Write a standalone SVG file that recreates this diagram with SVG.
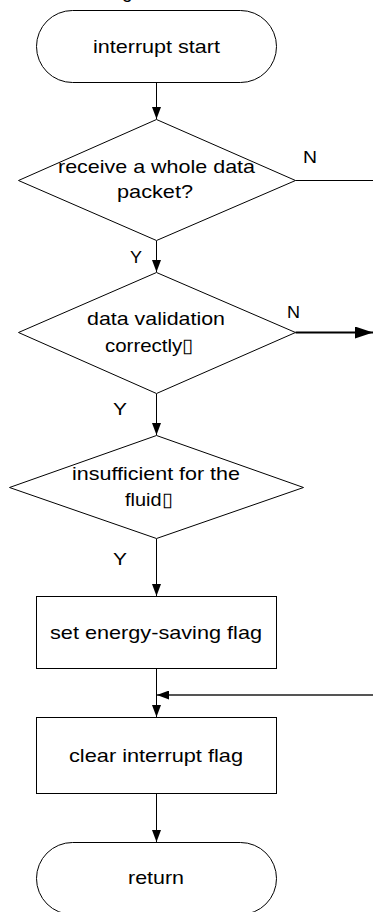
<svg xmlns="http://www.w3.org/2000/svg" width="373" height="912" viewBox="0 0 373 912">
<style>
.shape{fill:#fff;stroke:#000;stroke-width:1}
.t{font-family:"Liberation Sans",Arial,sans-serif;font-size:19px;fill:#000}
.l{font-family:"Liberation Sans",Arial,sans-serif;font-size:17px;fill:#000}
.c{fill:none;stroke:#000;stroke-width:1}
</style>
<defs>
<marker id="ah" markerUnits="userSpaceOnUse" markerWidth="12" markerHeight="9" refX="12" refY="4.5" orient="auto">
<path d="M0,0 L12,4.5 L0,9 z" fill="#000"/>
</marker>
<marker id="ahb" markerUnits="userSpaceOnUse" markerWidth="18" markerHeight="12" refX="18" refY="6" orient="auto">
<path d="M0,0 L18,6 L0,12 z" fill="#000"/>
</marker>
</defs>
<rect width="373" height="912" fill="#fff"/>
<text class="t" x="122" y="-2">g</text>
<g id="start">
<rect class="shape" x="36.5" y="10.5" width="240" height="72" rx="36" ry="36"/>
<text class="t" x="93" y="53" textLength="127" lengthAdjust="spacingAndGlyphs">interrupt start</text>
</g>
<g id="d1">
<polygon class="shape" points="156.5,119.5 295.5,180.5 156.5,240.5 18.5,180.5"/>
<text class="t" x="58" y="173" textLength="197" lengthAdjust="spacingAndGlyphs">receive a whole data</text>
<text class="t" x="117" y="198" textLength="76" lengthAdjust="spacingAndGlyphs">packet?</text>
</g>
<g id="d2">
<polygon class="shape" points="156.5,272.5 295.5,332.5 156.5,393.5 18.5,332.5"/>
<text class="t" x="87" y="325" textLength="138" lengthAdjust="spacingAndGlyphs">data validation</text>
<text class="t" x="105" y="352" textLength="88" lengthAdjust="spacingAndGlyphs">correctly▯</text>
</g>
<g id="d3">
<polygon class="shape" points="156.5,435.5 303.5,487.5 156.5,538.5 9.5,487.5"/>
<text class="t" x="72" y="480" textLength="168" lengthAdjust="spacingAndGlyphs">insufficient for the</text>
<text class="t" x="125" y="506" textLength="47" lengthAdjust="spacingAndGlyphs">fluid▯</text>
</g>
<g id="p1">
<rect class="shape" x="36.5" y="596.5" width="240" height="72"/>
<text class="t" x="50" y="639" textLength="212" lengthAdjust="spacingAndGlyphs">set energy-saving flag</text>
</g>
<g id="p2">
<rect class="shape" x="36.5" y="717.5" width="240" height="76"/>
<text class="t" x="69" y="762" textLength="174" lengthAdjust="spacingAndGlyphs">clear interrupt flag</text>
</g>
<g id="end">
<rect class="shape" x="36.5" y="842.5" width="240" height="72" rx="36" ry="36"/>
<text class="t" x="128" y="884" textLength="56" lengthAdjust="spacingAndGlyphs">return</text>
</g>
<g id="connectors">
<line class="c" x1="156.5" y1="83" x2="156.5" y2="119" marker-end="url(#ah)"/>
<line class="c" x1="156.5" y1="241" x2="156.5" y2="272" marker-end="url(#ah)"/>
<line class="c" x1="295.5" y1="180.5" x2="373" y2="180.5"/>
<line x1="295.5" y1="332.5" x2="373" y2="332.5" stroke="#000" stroke-width="2" marker-end="url(#ahb)"/>
<line class="c" x1="156.5" y1="394" x2="156.5" y2="435" marker-end="url(#ah)"/>
<line class="c" x1="156.5" y1="539" x2="156.5" y2="596" marker-end="url(#ah)"/>
<line class="c" x1="156.5" y1="669" x2="156.5" y2="717" marker-end="url(#ah)"/>
<line x1="373" y1="695" x2="157" y2="695" stroke="#555" stroke-width="2" marker-end="url(#ah)"/>
<line class="c" x1="156.5" y1="794" x2="156.5" y2="842" marker-end="url(#ah)"/>
<text class="l" x="303" y="163" textLength="14" lengthAdjust="spacingAndGlyphs">N</text>
<text class="l" x="287" y="318" textLength="13" lengthAdjust="spacingAndGlyphs">N</text>
<text class="l" x="130" y="263" textLength="12" lengthAdjust="spacingAndGlyphs">Y</text>
<text class="l" x="113" y="415" textLength="14" lengthAdjust="spacingAndGlyphs">Y</text>
<text class="l" x="113" y="565" textLength="14" lengthAdjust="spacingAndGlyphs">Y</text>
</g>
</svg>
